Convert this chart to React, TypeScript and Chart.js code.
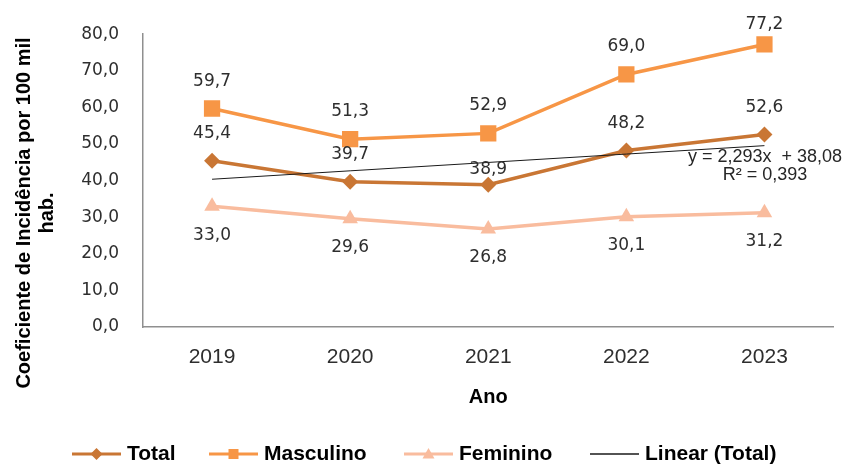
import React, { useEffect, useRef } from 'react';
import { Chart, registerables } from 'chart.js';

Chart.register(...registerables);

// ---- data ----
const years = ['2019', '2020', '2021', '2022', '2023'];
const totalValues = [45.4, 39.7, 38.9, 48.2, 52.6];
const masculinoValues = [59.7, 51.3, 52.9, 69.0, 77.2];
const femininoValues = [33.0, 29.6, 26.8, 30.1, 31.2];
const linearTotalValues = [40.37, 42.67, 44.96, 47.25, 49.55];
const seriesNames = ['Total', 'Masculino', 'Feminino', 'Linear (Total)'];
const trendEquation = 'y = 2,293x  + 38,08';
const trendR2 = 'R² = 0,393';
const yAxisTitle = ['Coeficiente de Incidência por 100 mil', 'hab.'];
const xAxisTitle = 'Ano';
const yMin = 0;
const yMax = 80;
const yStep = 10;

// ---- styles ----
const C_TOTAL = '#C97634';
const C_MASC = '#F79646';
const C_FEM = '#F9BC9E';
const C_TREND = '#1a1a1a';
const TEXT = '#2e2e2e';
const AXIS = '#8f8f8f';
const LEGEND_X = [72, 209, 404, 590];

const fmt = (v: number) => v.toFixed(1).replace('.', ',');

function drawMarker(ctx: CanvasRenderingContext2D, kind: string, x: number, y: number, s: number, color: string) {
  ctx.fillStyle = color;
  ctx.beginPath();
  if (kind === 'diamond') {
    ctx.moveTo(x - s, y); ctx.lineTo(x, y - s); ctx.lineTo(x + s, y); ctx.lineTo(x, y + s);
  } else if (kind === 'square') {
    ctx.rect(x - s, y - s, 2 * s, 2 * s);
  } else if (kind === 'triangle') {
    ctx.moveTo(x, y - s); ctx.lineTo(x + s, y + s * 0.75); ctx.lineTo(x - s, y + s * 0.75);
  }
  ctx.closePath();
  ctx.fill();
}

const valueLabelPlugin = {
  id: 'valueLabels',
  afterDatasetsDraw(chart: any, _args: any, opts: any) {
    const ctx = chart.ctx as CanvasRenderingContext2D;
    ctx.save();
    ctx.font = '17px "DejaVu Sans"';
    ctx.fillStyle = TEXT;
    ctx.textAlign = 'center';
    ctx.textBaseline = 'middle';
    (opts.series || []).forEach((s: any) => {
      const meta = chart.getDatasetMeta(s.index);
      const data = chart.data.datasets[s.index].data as number[];
      meta.data.forEach((pt: any, i: number) => {
        const off = s.offsets ? s.offsets[i] : s.offset;
        ctx.fillText(fmt(data[i]), pt.x, pt.y + off);
      });
    });
    ctx.restore();
  },
};

const decorPlugin = {
  id: 'decor',
  afterDraw(chart: any) {
    const ctx = chart.ctx as CanvasRenderingContext2D;
    const area = chart.chartArea;
    ctx.save();
    // Y axis title (two rotated lines)
    ctx.fillStyle = '#000';
    ctx.font = 'bold 20px "Liberation Sans", Arial, sans-serif';
    ctx.textAlign = 'center';
    ctx.textBaseline = 'middle';
    const yc = 213;
    ctx.save();
    ctx.translate(24, yc);
    ctx.rotate(-Math.PI / 2);
    ctx.fillText(yAxisTitle[0], 0, 0);
    ctx.restore();
    ctx.save();
    ctx.translate(47, yc);
    ctx.rotate(-Math.PI / 2);
    ctx.fillText(yAxisTitle[1], 0, 0);
    ctx.restore();

    // X axis title
    ctx.fillText(xAxisTitle, (area.left + area.right) / 2, 397);

    // Trend equation
    ctx.fillStyle = '#262626';
    ctx.font = '18px "Liberation Sans", Arial, sans-serif';
    ctx.fillText(trendEquation, 765, 157);
    ctx.fillText(trendR2, 765, 175);

    // Legend
    const items = [
      { name: seriesNames[0], color: C_TOTAL, marker: 'diamond', size: 6, lw: 3 },
      { name: seriesNames[1], color: C_MASC, marker: 'square', size: 5, lw: 3 },
      { name: seriesNames[2], color: C_FEM, marker: 'triangle', size: 6, lw: 3 },
      { name: seriesNames[3], color: C_TREND, marker: '', size: 0, lw: 1.5 },
    ];
    ctx.font = 'bold 21px "Liberation Sans", Arial, sans-serif';
    ctx.textAlign = 'left';
    const lineLen = 49;
    const gapText = 6;
    const ly = 454;
    items.forEach((it, k) => {
      const x = LEGEND_X[k];
      ctx.strokeStyle = it.color;
      ctx.lineWidth = it.lw;
      ctx.beginPath();
      ctx.moveTo(x, ly);
      ctx.lineTo(x + lineLen, ly);
      ctx.stroke();
      if (it.marker) drawMarker(ctx, it.marker, x + lineLen / 2, ly, it.size, it.color);
      ctx.fillStyle = '#000';
      ctx.fillText(it.name, x + lineLen + gapText, ly);
    });
    ctx.restore();
  },
};

export default function App() {
  const ref = useRef<HTMLCanvasElement | null>(null);
  useEffect(() => {
    if (!ref.current) return;
    const chart = new Chart(ref.current, {
      type: 'line',
      data: {
        labels: years,
        datasets: [
          {
            label: seriesNames[3],
            data: linearTotalValues,
            borderColor: C_TREND,
            borderWidth: 1,
            pointRadius: 0,
            fill: false,
            order: 0,
          },
          {
            label: seriesNames[0],
            data: totalValues,
            borderColor: C_TOTAL,
            backgroundColor: C_TOTAL,
            borderWidth: 3.5,
            pointStyle: 'rectRot',
            pointRadius: 8,
            pointBorderWidth: 0,
            fill: false,
            order: 1,
          },
          {
            label: seriesNames[1],
            data: masculinoValues,
            borderColor: C_MASC,
            backgroundColor: C_MASC,
            borderWidth: 3.5,
            pointStyle: 'rect',
            pointRadius: 11.5,
            pointBorderWidth: 0,
            fill: false,
            order: 2,
          },
          {
            label: seriesNames[2],
            data: femininoValues,
            borderColor: C_FEM,
            backgroundColor: C_FEM,
            borderWidth: 3.5,
            pointStyle: 'triangle',
            pointRadius: 9,
            pointBorderWidth: 0,
            fill: false,
            order: 3,
          },
        ],
      },
      options: {
        animation: false,
        responsive: false,
        devicePixelRatio: 1,
        layout: { padding: { top: 33, right: 0, left: 0, bottom: 0 } },
        plugins: {
          legend: { display: false },
          tooltip: { enabled: false },
          valueLabels: {
            series: [
              { index: 1, offsets: [-27, -27, -15, -27, -27] },
              { index: 2, offsets: [-27, -28, -28, -28, -20] },
              { index: 3, offset: 29 },
            ],
          },
        } as any,
        scales: {
          x: {
            offset: true,
            grid: { display: false, drawTicks: false },
            border: { display: true, color: AXIS, width: 1.5 },
            ticks: {
              color: TEXT,
              padding: 18,
              font: { family: '"Liberation Sans", Arial, sans-serif', size: 21 },
            },
            afterFit: (s: any) => {
              s.height = 464 - 327;
              s.paddingLeft = 0;
              s.paddingRight = 0;
            },
          },
          y: {
            min: yMin,
            max: yMax,
            grid: { display: false, drawTicks: false },
            border: { display: true, color: AXIS, width: 1.5 },
            ticks: {
              stepSize: yStep,
              color: TEXT,
              padding: 24,
              font: { family: '"DejaVu Sans", sans-serif', size: 17 },
              callback: (v: any) => fmt(Number(v)),
            },
            afterFit: (s: any) => { s.width = 143; },
          },
        },
      },
      plugins: [valueLabelPlugin, decorPlugin],
    });
    return () => chart.destroy();
  }, []);
  return (
    <div style={{ position: 'absolute', left: 0, top: 0, width: 845, height: 464, background: '#fff' }}>
      <canvas ref={ref} width={845} height={464} />
    </div>
  );
}
